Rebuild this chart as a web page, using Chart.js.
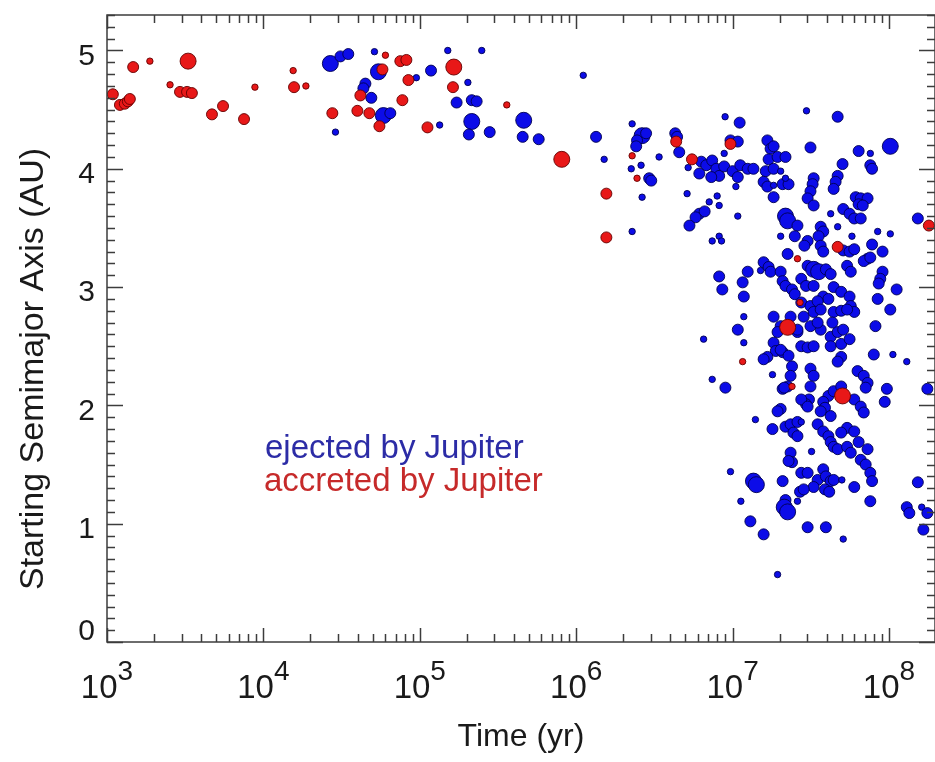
<!DOCTYPE html>
<html>
<head>
<meta charset="utf-8">
<script src="https://cdn.jsdelivr.net/npm/chart.js@4.4.1/dist/chart.umd.min.js"></script>
<style>
  html, body { margin: 0; padding: 0; background: #fff; }
</style>
</head>
<body>
<canvas id="myChart" width="935" height="762"></canvas>
<script>
// time (yr), starting semimajor axis (AU), marker size class (1 small .. 3 large)
const ejectedTime = [
  2.68e4,3.11e4,3.49e4,5.13e4,5.44e4,4.49e4,4.36e4,9.51e4,4.90e4,5.85e4,
  6.48e4,2.89e4,1.34e5,1.18e5,1.51e5,2.49e5,2.03e5,1.72e5,2.15e5,2.31e5,
  2.15e5,2.06e5,2.80e5,4.62e5,4.55e5,5.76e5,1.11e6,1.34e6,1.51e6,2.28e6,
  2.64e6,2.80e6,2.45e6,2.42e6,2.25e6,2.60e6,3.39e6,2.93e6,3.02e6,2.64e6,
  2.28e6,4.30e6,4.42e6,4.56e6,5.20e6,8.96e6,1.11e7,6.31e6,6.79e6,7.41e6,
  7.87e6,8.21e6,8.84e6,1.00e7,1.08e7,1.12e7,1.25e7,1.36e7,1.05e7,6.13e6,
  7.31e6,9.70e6,1.08e7,8.84e6,5.12e6,7.09e6,7.97e6,8.21e6,6.13e6,6.63e6,
  5.80e6,5.30e6,1.08e7,7.41e6,8.21e6,8.50e6,1.67e7,1.75e7,1.83e7,1.70e7,
  1.94e7,2.18e7,1.63e7,1.83e7,2.03e7,1.58e7,1.67e7,1.83e7,2.09e7,2.28e7,
  1.83e7,3.15e7,2.97e7,4.70e7,6.40e7,7.60e7,1.02e8,7.60e7,7.80e7,5.05e7,
  4.70e7,4.56e7,4.43e7,3.30e7,3.25e7,3.15e7,3.02e7,3.30e7,2.18e7,6.13e7,
  6.60e7,7.30e7,6.40e7,6.80e7,5.10e7,5.60e7,6.00e7,4.24e7,6.60e7,2.18e7,
  2.25e7,2.60e7,2.03e7,2.50e7,3.02e7,2.88e7,3.66e7,3.80e7,3.55e7,4.70e7,
  5.80e7,3.66e7,3.80e7,5.10e7,5.60e7,6.00e7,8.47e7,1.02e8,7.80e7,9.10e7,
  7.30e7,6.90e7,7.60e7,1.53e8,2.25e7,1.58e7,1.70e7,1.75e7,1.25e7,1.16e7,
  1.18e7,1.51e7,8.21e6,8.60e6,2.03e7,2.09e7,2.18e7,2.40e7,2.50e7,3.02e7,
  3.30e7,3.55e7,3.95e7,4.24e7,2.75e7,2.95e7,3.30e7,5.40e7,5.70e7,9.10e7,
  8.80e7,8.60e7,1.12e8,4.43e7,4.95e7,5.60e7,8.47e7,3.80e7,4.10e7,2.75e7,
  3.15e7,3.50e7,5.70e7,6.00e7,1.83e7,2.03e7,1.94e7,1.83e7,2.35e7,2.60e7,
  2.85e7,3.30e7,3.66e7,4.43e7,4.95e7,5.40e7,3.66e7,4.24e7,4.70e7,5.10e7,
  8.20e7,1.02e8,1.08e7,1.18e7,6.53e6,2.75e7,3.02e7,3.30e7,4.24e7,4.95e7,
  5.60e7,1.89e7,2.09e7,8.00e7,1.06e8,3.15e7,3.50e7,4.35e7,2.60e7,1.18e7,
  2.03e7,2.28e7,2.40e7,2.35e7,2.25e7,2.09e7,4.95e7,4.70e7,1.30e8,1.67e7,
  1.58e7,1.80e7,7.41e6,9.00e6,3.15e7,3.30e7,3.15e7,3.08e7,2.95e7,2.14e7,
  2.75e7,3.02e7,2.03e7,1.94e7,4.10e7,3.80e7,3.90e7,3.66e7,4.43e7,4.95e7,
  6.00e7,6.60e7,6.90e7,6.30e7,6.90e7,7.30e7,7.10e7,9.70e7,9.40e7,4.24e7,
  1.40e7,1.80e7,2.18e7,2.35e7,2.60e7,2.45e7,2.60e7,2.75e7,3.50e7,3.80e7,
  4.10e7,4.24e7,4.43e7,4.70e7,5.40e7,6.00e7,5.40e7,5.70e7,6.40e7,7.30e7,
  3.20e7,4.95e7,2.35e7,2.40e7,2.28e7,6.60e7,7.10e7,7.60e7,7.80e7,9.70e6,
  1.36e7,1.42e7,2.09e7,2.75e7,3.02e7,3.50e7,3.80e7,3.95e7,4.24e7,4.43e7,
  3.90e7,4.15e7,3.30e7,5.00e7,6.00e7,2.70e7,2.85e7,2.18e7,2.14e7,2.25e7,
  2.60e7,7.60e7,1.13e7,1.53e8,1.30e8,1.35e8,1.62e8,1.76e8,1.30e7,1.58e7,
  3.02e7,3.95e7,5.10e7,1.66e8,1.94e7,1.76e8
];
const ejectedAxis = [
  4.89,4.95,4.97,4.99,4.82,4.72,4.68,4.77,4.60,4.45,
  4.47,4.31,4.37,4.83,5.00,5.00,4.73,4.56,4.58,4.57,
  4.40,4.29,4.31,4.41,4.27,4.25,4.79,4.27,4.08,4.38,
  4.28,4.30,4.24,4.19,4.00,4.03,4.10,3.92,3.90,3.76,
  3.47,4.30,4.27,4.14,4.01,4.44,4.39,4.06,4.03,4.07,
  4.00,3.94,4.02,3.98,3.93,4.03,4.00,4.00,3.85,3.96,
  3.93,4.24,4.23,4.13,3.79,3.72,3.77,3.69,3.62,3.64,
  3.59,3.52,3.60,3.39,3.43,3.39,4.24,4.17,4.19,4.08,
  4.10,4.10,3.98,4.00,3.98,3.89,3.85,3.86,3.87,3.87,
  3.76,4.18,4.49,4.44,4.15,4.13,4.19,4.03,4.00,4.04,
  3.94,3.89,3.83,3.92,3.87,3.81,3.75,3.69,3.92,3.76,
  3.75,3.75,3.70,3.69,3.66,3.62,3.58,3.62,3.58,3.60,
  3.56,3.52,3.43,3.43,3.39,3.35,3.51,3.47,3.43,3.51,
  3.43,3.35,3.30,3.31,3.30,3.32,3.47,3.45,3.36,3.30,
  3.24,3.22,3.25,3.58,3.28,3.21,3.17,3.13,3.13,3.04,
  2.92,3.14,3.09,2.98,3.13,3.05,3.01,2.98,2.94,3.18,
  3.15,3.13,3.15,3.11,3.07,3.01,3.01,3.18,3.13,3.13,
  3.07,3.03,2.98,3.00,2.96,2.92,2.90,2.92,2.90,2.87,
  2.84,2.88,2.84,2.79,2.75,2.67,2.62,2.53,2.75,2.62,
  2.75,2.79,2.81,2.79,2.80,2.81,2.64,2.58,2.62,2.64,
  2.67,2.81,2.64,2.75,2.56,2.50,2.49,2.50,2.50,2.52,
  2.56,2.46,2.45,2.43,2.43,2.67,2.70,2.70,2.64,2.53,
  2.47,2.42,2.33,2.25,2.16,2.14,2.41,2.37,2.37,2.41,
  2.39,2.26,2.22,2.15,2.31,2.25,2.16,2.05,2.01,2.15,
  2.05,1.99,1.97,1.95,2.08,2.03,1.98,1.95,2.12,2.16,
  2.05,1.99,1.94,2.29,2.25,2.19,2.15,2.14,2.03,1.91,
  1.88,1.80,1.82,1.84,1.86,1.77,1.74,1.86,1.84,1.78,
  1.74,1.69,1.65,1.63,1.81,1.78,1.65,1.60,1.69,1.63,
  1.61,1.77,1.60,1.52,1.53,1.54,1.50,1.43,1.36,1.44,
  1.36,1.33,1.36,1.43,1.43,1.37,1.46,1.40,1.36,1.37,
  1.29,1.27,1.31,1.37,1.31,1.27,1.29,1.20,1.14,1.10,
  1.19,1.19,1.19,1.35,1.14,1.09,1.14,1.09,1.02,0.91,
  0.97,0.97,0.87,0.95,0.57,2.14
];
const ejectedSize = [
  3,2,2,1,3,2,2,1,2,3,
  2,1,1,2,1,1,1,2,2,2,
  3,2,2,3,2,2,1,2,1,1,
  3,2,2,2,1,1,1,2,2,1,
  1,2,2,2,1,1,2,2,2,2,
  2,2,2,2,2,2,2,2,1,2,
  2,2,2,1,1,1,1,1,2,2,
  2,2,1,1,1,1,2,2,2,2,
  2,2,2,2,1,2,2,1,2,2,
  2,2,1,2,2,1,3,2,2,2,
  2,2,2,2,2,2,2,2,1,2,
  2,2,2,2,2,2,2,1,2,3,
  3,2,1,2,2,2,2,2,2,1,
  1,2,2,2,2,2,1,1,2,2,
  2,2,2,2,2,2,2,2,2,2,
  2,1,2,2,2,2,2,2,2,2,
  3,3,2,2,2,2,2,2,2,2,
  2,2,2,2,2,2,2,2,2,2,
  2,2,2,2,2,2,2,2,2,2,
  2,2,2,2,2,2,2,2,2,2,
  2,2,2,1,1,2,2,2,2,2,
  2,2,2,2,1,2,2,2,2,1,
  2,2,2,2,2,2,2,2,1,2,
  2,1,1,2,2,2,2,2,2,2,
  2,2,2,2,2,2,2,2,2,2,
  2,2,2,2,2,2,2,2,2,2,
  1,2,2,2,2,2,2,1,2,2,
  2,2,2,2,2,2,2,2,2,2,
  1,2,2,2,2,2,2,2,2,1,
  3,3,2,2,2,2,2,2,2,2,
  2,2,2,1,2,2,2,2,3,3,
  1,2,1,2,2,2,1,2,2,2,
  2,2,1,2,1,2
];

const accretedTime = [
  1.09e3,1.21e3,1.30e3,1.36e3,1.40e3,1.47e3,1.88e3,2.53e3,2.93e3,3.25e3,
  3.49e3,3.30e3,4.69e3,5.52e3,7.52e3,8.83e3,1.55e4,1.57e4,1.87e4,6.03e4,
  5.77e4,7.51e4,8.21e4,8.46e4,4.17e4,7.74e4,2.76e4,3.99e4,4.76e4,5.52e4,
  1.12e5,1.65e5,1.63e5,3.60e5,8.09e5,1.56e6,1.56e6,2.28e6,2.45e6,4.36e6,
  5.50e6,9.70e6,4.70e7,2.60e7,2.70e7,2.25e7,1.16e7,2.40e7,5.05e7,1.80e8
];
const accretedAxis = [
  4.63,4.54,4.55,4.57,4.59,4.86,4.91,4.71,4.65,4.65,
  4.64,4.91,4.46,4.53,4.42,4.69,4.83,4.69,4.70,4.96,
  4.84,4.91,4.92,4.75,4.62,4.58,4.47,4.49,4.47,4.36,
  4.35,4.86,4.69,4.54,4.08,3.79,3.42,4.11,3.92,4.23,
  4.08,4.21,3.34,3.24,2.87,2.66,2.37,2.16,2.08,3.52
];
const accretedSize = [
  2,2,2,2,2,2,1,1,2,2,
  2,3,2,2,2,1,1,2,1,1,
  2,2,2,2,2,2,2,2,2,2,
  2,3,2,1,3,2,2,1,1,2,
  2,2,2,1,1,3,1,1,3,2
];

const xTickValues = [1e3, 1e4, 1e5, 1e6, 1e7, 1e8];
const xTickExponents = ['3', '4', '5', '6', '7', '8'];
const yTickValues = [0, 1, 2, 3, 4, 5];
const seriesLabels = ['ejected by Jupiter', 'accreted by Jupiter'];

const FONT = '"Liberation Sans", Arial, Helvetica, sans-serif';
const radiusFor = { 1: 3.2, 2: 5.5, 3: 8 };

function points(times, axis, size) {
  return times.map((t, i) => ({ x: t, y: axis[i], s: size[i] }));
}

const axisDecor = {
  id: 'axisDecor',
  afterDraw(chart) {
    const { ctx, chartArea: a, scales: { x, y } } = chart;
    ctx.save();

    // frame and tick marks on all four sides
    ctx.strokeStyle = '#3c3c3c';
    ctx.lineWidth = 1.5;
    ctx.strokeRect(a.left, a.top, a.right - a.left, a.bottom - a.top);
    ctx.beginPath();
    for (let d = 3; d <= 8; d++) {
      for (let m = 1; m <= 9; m++) {
        const v = m * Math.pow(10, d);
        if (v > x.max) break;
        const px = Math.round(x.getPixelForValue(v)) + 0.5;
        const len = m === 1 ? 14 : 8;
        ctx.moveTo(px, a.bottom); ctx.lineTo(px, a.bottom - len);
        ctx.moveTo(px, a.top); ctx.lineTo(px, a.top + len);
      }
    }
    for (let i = 0; i <= 53; i++) {
      const py = Math.round(y.getPixelForValue(i / 10)) + 0.5;
      const len = i % 10 === 0 ? 16 : 8;
      ctx.moveTo(a.left, py); ctx.lineTo(a.left + len, py);
      ctx.moveTo(a.right, py); ctx.lineTo(a.right - len, py);
    }
    ctx.stroke();

    ctx.fillStyle = '#1a1a1a';
    // x tick labels: 10 with exponent
    xTickValues.forEach((v, i) => {
      const px = x.getPixelForValue(v);
      ctx.font = '33px ' + FONT;
      const w1 = ctx.measureText('10').width;
      ctx.font = '28px ' + FONT;
      const w2 = ctx.measureText(xTickExponents[i]).width;
      const start = px - (w1 + w2) / 2;
      ctx.textAlign = 'left';
      ctx.textBaseline = 'alphabetic';
      ctx.font = '33px ' + FONT;
      ctx.fillText('10', start, 698);
      ctx.font = '28px ' + FONT;
      ctx.fillText(xTickExponents[i], start + w1, 680);
    });

    // y tick labels
    ctx.font = '30px ' + FONT;
    ctx.textAlign = 'right';
    ctx.textBaseline = 'middle';
    yTickValues.forEach(v => {
      const py = y.getPixelForValue(v) + (v === 0 ? -10 : 6);
      ctx.fillText(String(v), a.left - 12, py);
    });

    // axis titles
    ctx.font = '32px ' + FONT;
    ctx.textAlign = 'center';
    ctx.textBaseline = 'alphabetic';
    ctx.fillText('Time (yr)', (a.left + a.right) / 2, 746);
    ctx.save();
    ctx.translate(43, 369);
    ctx.rotate(-Math.PI / 2);
    ctx.font = '34px ' + FONT;
    ctx.fillText('Starting Semimajor Axis (AU)', 0, 0);
    ctx.restore();

    // in-plot labels
    ctx.font = '33px ' + FONT;
    ctx.textAlign = 'left';
    ctx.fillStyle = '#2c2ca6';
    ctx.fillText(seriesLabels[0], 265, 458);
    ctx.fillStyle = '#c62a2a';
    ctx.fillText(seriesLabels[1], 264, 491);
    ctx.restore();
  }
};

new Chart(document.getElementById('myChart'), {
  type: 'scatter',
  data: {
    datasets: [
      {
        label: seriesLabels[0],
        data: points(ejectedTime, ejectedAxis, ejectedSize),
        backgroundColor: 'rgb(12, 12, 232)',
        borderColor: 'rgba(0, 0, 80, 0.9)',
        borderWidth: 1,
        pointRadius: c => radiusFor[c.raw.s],
        order: 2
      },
      {
        label: seriesLabels[1],
        data: points(accretedTime, accretedAxis, accretedSize),
        backgroundColor: 'rgb(232, 24, 24)',
        borderColor: 'rgba(100, 0, 0, 0.9)',
        borderWidth: 1,
        pointRadius: c => radiusFor[c.raw.s],
        order: 1
      }
    ]
  },
  options: {
    responsive: false,
    animation: false,
    layout: { autoPadding: false, padding: { top: 15, right: 0, left: 0, bottom: 0 } },
    scales: {
      x: {
        type: 'logarithmic',
        min: 1e3,
        max: 1.97e8,
        grid: { display: false, drawTicks: false },
        border: { display: false },
        ticks: { display: false },
        afterFit: s => { s.height = 120; }
      },
      y: {
        min: 0,
        max: 5.3,
        grid: { display: false, drawTicks: false },
        border: { display: false },
        ticks: { display: false },
        afterFit: s => { s.width = 107; }
      }
    },
    plugins: {
      legend: { display: false },
      tooltip: { enabled: false }
    }
  },
  plugins: [axisDecor]
});
</script>
</body>
</html>
